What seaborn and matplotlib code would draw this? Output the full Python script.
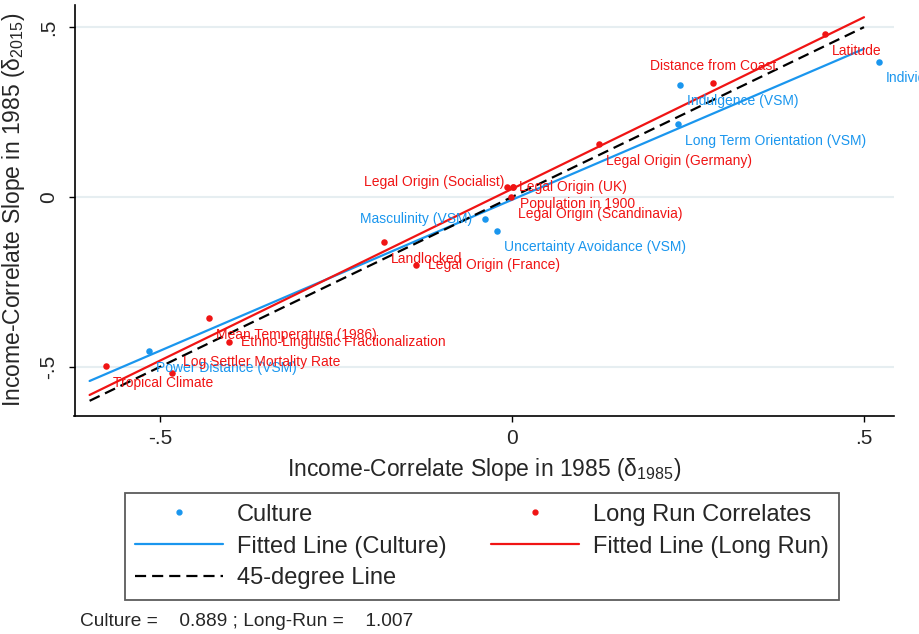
import numpy as np
import pandas as pd
import matplotlib
matplotlib.use("Agg")
import matplotlib.pyplot as plt
import seaborn as sns
from matplotlib.lines import Line2D

# ---------------- data ----------------
culture_names = ["Individualism", "Indulgence (VSM)", "Long Term Orientation (VSM)",
                 "Masculinity (VSM)", "Uncertainty Avoidance (VSM)", "Power Distance (VSM)"]
culture_x = [0.521, 0.239, 0.236, -0.039, -0.021, -0.515]
culture_y = [0.398, 0.331, 0.215, -0.066, -0.099, -0.454]

longrun_names = ["Latitude", "Distance from Coast", "Legal Origin (Germany)",
                 "Legal Origin (Socialist)", "Legal Origin (UK)", "Population in 1900",
                 "Legal Origin (Scandinavia)", "Landlocked", "Legal Origin (France)",
                 "Mean Temperature (1986)", "Ethno-Linguistic Fractionalization",
                 "Log Settler Mortality Rate", "Tropical Climate"]
longrun_x = [0.445, 0.286, 0.124, -0.007, 0.002, 0.001, -0.001, -0.182, -0.137,
             -0.431, -0.402, -0.483, -0.577]
longrun_y = [0.480, 0.336, 0.156, 0.030, 0.030, 0.029, 0.000, -0.133, -0.199,
             -0.356, -0.426, -0.517, -0.498]

line_range = [-0.6, 0.5]
xticks = [-0.5, 0.0, 0.5]
xticklabels = ["-.5", "0", ".5"]
yticks = [-0.5, 0.0, 0.5]
yticklabels = ["-.5", "0", ".5"]
footnote = "Culture =    0.889 ; Long-Run =    1.007"

# ---------------- label placement (style) ----------------
# offsets in points (dx, dy) and horizontal alignment
culture_label_pos = {
    "Individualism": (5, -12, "left"),
    "Indulgence (VSM)": (5, -12, "left"),
    "Long Term Orientation (VSM)": (5, -12, "left"),
    "Masculinity (VSM)": (-9, 0, "right"),
    "Uncertainty Avoidance (VSM)": (5, -12, "left"),
    "Power Distance (VSM)": (5, -12, "left"),
}
longrun_label_pos = {
    "Latitude": (5, -12, "left"),
    "Distance from Coast": (0, 12, "center"),
    "Legal Origin (Germany)": (5, -12, "left"),
    "Legal Origin (Socialist)": (-2, 3.5, "right"),
    "Legal Origin (UK)": (4, 0, "left"),
    "Population in 1900": (5, -12, "left"),
    "Legal Origin (Scandinavia)": (5, -12, "left"),
    "Landlocked": (5, -12, "left"),
    "Legal Origin (France)": (9, 0, "left"),
    "Mean Temperature (1986)": (5, -12, "left"),
    "Ethno-Linguistic Fractionalization": (9, 0, "left"),
    "Log Settler Mortality Rate": (8, 8, "left"),
    "Tropical Climate": (5, -12, "left"),
}

BLUE = "#1a96ee"
RED = "#f01414"
GRID = "#e6eef1"

sns.set_theme(style="white")
plt.rcParams["font.family"] = ["Liberation Sans", "DejaVu Sans"]
plt.rcParams["mathtext.fontset"] = "custom"
plt.rcParams["mathtext.rm"] = "Liberation Sans"
plt.rcParams["mathtext.it"] = "Liberation Sans"

W, H = 919, 634
fig = plt.figure(figsize=(W / 100, H / 100), dpi=100)
ax_l, ax_r, ax_t, ax_b = 74.5, 894, 5, 415.5
ax = fig.add_axes([ax_l / W, 1 - ax_b / H, (ax_r - ax_l) / W, (ax_b - ax_t) / H])

cult = pd.DataFrame({"name": culture_names, "x": culture_x, "y": culture_y})
lr = pd.DataFrame({"name": longrun_names, "x": longrun_x, "y": longrun_y})

# gridlines
for yv in yticks:
    ax.axhline(yv, color=GRID, lw=1.5, zorder=0)

# fitted lines
bc, ac = np.polyfit(cult["x"], cult["y"], 1)
bl, al = np.polyfit(lr["x"], lr["y"], 1)
xr = np.array(line_range)
sns.lineplot(x=xr, y=ac + bc * xr, ax=ax, color=BLUE, lw=1.6, zorder=3)
sns.lineplot(x=xr, y=al + bl * xr, ax=ax, color=RED, lw=1.6, zorder=3)
sns.lineplot(x=xr, y=xr, ax=ax, color="black", lw=1.6, zorder=3,
             linestyle=(0, (5, 2.7)))

# points
sns.scatterplot(data=cult, x="x", y="y", ax=ax, color=BLUE, s=22, linewidth=0, zorder=4)
sns.scatterplot(data=lr, x="x", y="y", ax=ax, color=RED, s=22, linewidth=0, zorder=4)

for df, pos, col in [(cult, culture_label_pos, BLUE), (lr, longrun_label_pos, RED)]:
    for _, r in df.iterrows():
        dx, dy, ha = pos[r["name"]]
        ax.annotate(r["name"], (r["x"], r["y"]), xytext=(dx, dy),
                    textcoords="offset points", ha=ha, va="center",
                    color=col, fontsize=10, zorder=5)

ax.set_xlim((ax_l - 512) / 704, (ax_r - 512) / 704)
ax.set_ylim((197 - ax_b) / 339.7, (197 - ax_t) / 339.7)
ax.set_xticks(xticks)
ax.set_xticklabels(xticklabels)
ax.set_yticks(yticks)
ax.set_yticklabels(yticklabels, rotation=90, va="center")
ax.tick_params(axis="both", direction="out", length=4.5, width=1, color="black",
               labelsize=15, pad=5, left=True, bottom=True)
ax.tick_params(axis="y", pad=7)
for s in ["top", "right"]:
    ax.spines[s].set_visible(False)
for s in ["left", "bottom"]:
    ax.spines[s].set_color("black")
    ax.spines[s].set_linewidth(1.2)

ax.set_xlabel("Income-Correlate Slope in 1985 (δ$_{1985}$)", fontsize=16.5, labelpad=6)
ax.set_ylabel("Income-Correlate Slope in 1985 (δ$_{2015}$)", fontsize=16.5, labelpad=9)

handles = [
    Line2D([], [], color=BLUE, marker="o", linestyle="none", markersize=3.5),
    Line2D([], [], color=BLUE, lw=1.6),
    Line2D([], [], color="black", lw=1.6, linestyle=(0, (5, 2.7))),
    Line2D([], [], color=RED, marker="o", linestyle="none", markersize=3.5),
    Line2D([], [], color=RED, lw=1.6),
]
labels = ["Culture", "Fitted Line (Culture)", "45-degree Line",
          "Long Run Correlates", "Fitted Line (Long Run)"]
leg = fig.legend(handles, labels, ncol=2, loc="upper center",
                 bbox_to_anchor=(482 / W, 1 - 493 / H), fontsize=17,
                 frameon=True, fancybox=False, edgecolor="#333333",
                 handlelength=3.7, handletextpad=0.6, columnspacing=1.9,
                 labelspacing=0.42, borderpad=0.45, borderaxespad=0)
leg.get_frame().set_linewidth(1.3)

fig.text(80 / W, 1 - 622 / H, footnote, fontsize=13.8, va="center", ha="left")

fig.savefig("out.png", dpi=100)
